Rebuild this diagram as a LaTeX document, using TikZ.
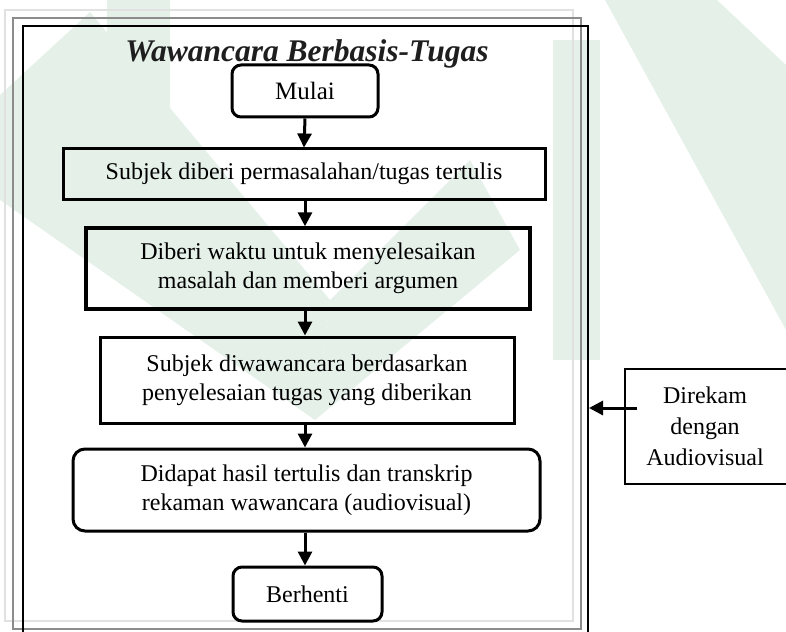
\documentclass[tikz,border=0pt]{standalone}
\usepackage{fontspec}
\setmainfont{Liberation Serif}
\usetikzlibrary{arrows.meta}
\definecolor{wm}{RGB}{229,240,233}
\definecolor{framegray}{RGB}{140,140,140}
\definecolor{lightframe}{RGB}{225,225,225}
\definecolor{titlecol}{RGB}{30,30,30}
\tikzset{
  px/.style={x=1pt,y=-1pt},
  sqbox/.style={draw,line width=3pt,minimum width=#1,inner sep=0pt,align=center,font=\fontsize{24}{29}\selectfont},
  rbox/.style={draw,line width=3pt,rounded corners=9pt,minimum width=#1,inner sep=0pt,align=center,font=\fontsize{24}{29}\selectfont},
  flow/.style={line width=3pt,-{Triangle[width=14pt,length=14pt]}},
}
\begin{document}
\begin{tikzpicture}[px]
\useasboundingbox (0,0) rectangle (786,631);
% watermark (faint)
\fill[wm] (107,0) -- (170,0) -- (170,205) -- (107,240) -- cycle;
\fill[wm] (0,95) -- (90,12) -- (330,300) -- (315,420) -- (0,200) -- cycle;
\fill[wm] (315,420) -- (330,300) -- (470,160) -- (520,250) -- cycle;
\fill[wm] (553,40) -- (600,40) -- (600,360) -- (553,360) -- cycle;
\fill[wm] (605,0) -- (717,0) -- (786,65) -- (786,330) -- cycle;
% frames
\draw[lightframe,line width=1.5pt] (5,10) rectangle (573,621);
\draw[framegray,line width=2pt] (13,18) rectangle (581,629);
\draw[black,line width=1.5pt] (23,640) |- (588,26) -- (588,640);
% title
\node[font=\fontsize{31.5}{36}\selectfont\bfseries\itshape,text=titlecol,anchor=base] (title) at (307,62) {Wawancara Berbasis-Tugas};
% boxes
\node[rbox=146pt,minimum height=52pt,font=\fontsize{25}{29}\selectfont] (mulai) at (305,91) {Mulai};
\node[sqbox=482pt,minimum height=50pt] (b2) at (304,174) {Subjek diberi permasalahan/tugas tertulis};
\node[sqbox=444pt,minimum height=81pt,line width=3.5pt] (b3) at (308,268.5) {Diberi waktu untuk menyelesaikan\\masalah dan memberi argumen};
\node[sqbox=414pt,minimum height=86pt] (b4) at (307,380) {Subjek diwawancara berdasarkan\\penyelesaian tugas yang diberikan};
\node[rbox=467pt,minimum height=82pt,rounded corners=12pt] (b5) at (306.5,490) {Didapat hasil tertulis dan transkrip\\rekaman wawancara (audiovisual)};
\node[rbox=149pt,minimum height=54pt] (stop) at (307.5,594) {Berhenti};
\node[draw,line width=2pt,minimum width=200pt,minimum height=115pt,anchor=north west,inner sep=0pt] (rec) at (624,368) {};
\node[font=\fontsize{24}{31}\selectfont,align=center] (rectext) at (705,426) {Direkam\\dengan\\Audiovisual};
\coordinate (recstart) at (637,408);
\coordinate (frameedge) at (589,408);
% connectors
\draw[flow] (mulai.south) -- (b2.north);
\draw[flow] (b2.south -| mulai.south) -- (b3.north -| mulai.south);
\draw[flow] (b3.south -| mulai.south) -- (b4.north -| mulai.south);
\draw[flow] (b4.south -| mulai.south) -- (b5.north -| mulai.south);
\draw[flow] (b5.south -| mulai.south) -- (stop.north -| mulai.south);
\draw[flow] (recstart) -- (frameedge);
\end{tikzpicture}
\end{document}
